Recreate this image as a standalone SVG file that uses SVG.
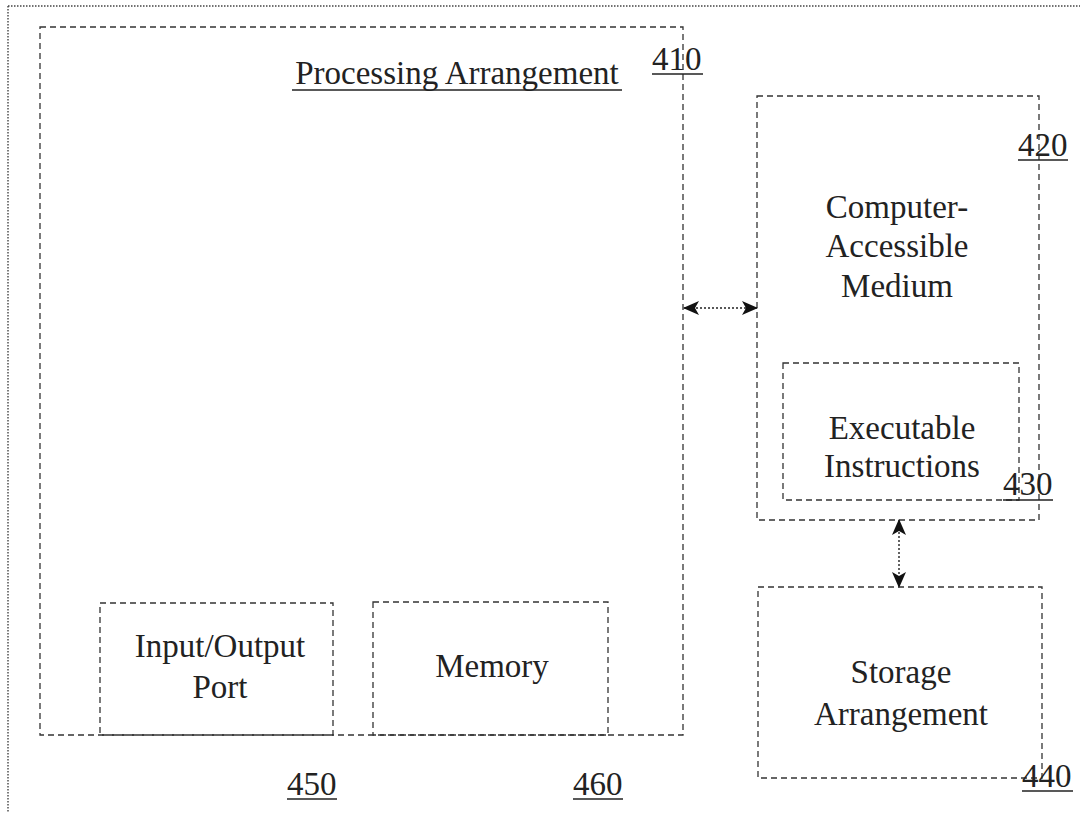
<svg xmlns="http://www.w3.org/2000/svg" width="1080" height="813" viewBox="0 0 1080 813">
  <style>
    .box { fill: none; stroke: #333; stroke-width: 1.3; stroke-dasharray: 6 4; }
    .frame { fill: none; stroke: #444; stroke-width: 1.4; stroke-dasharray: 1.5 1.5; }
    .lbl { font-family: 'Liberation Serif', 'DejaVu Serif', serif; font-size: 33px; fill: #222; text-anchor: middle; }
    .ref { font-family: 'Liberation Serif', 'DejaVu Serif', serif; font-size: 33px; fill: #222; }
    .ul { stroke: #222; stroke-width: 1.5; }
    .conn { fill: none; stroke: #222; stroke-width: 1.4; stroke-dasharray: 2 2; }
  </style>
  <defs>
    <marker id="head" viewBox="0 0 16 14" refX="15" refY="7" markerWidth="16" markerHeight="14" markerUnits="userSpaceOnUse" orient="auto-start-reverse">
      <path d="M0,0 L16,7 L0,14 L4,7 Z" fill="#111"/>
    </marker>
  </defs>

  <rect width="1080" height="813" fill="#fff"/>

  <!-- sheet frame -->
  <g id="frame">
    <line class="frame" x1="8" y1="6" x2="1080" y2="6"/>
    <line class="frame" x1="8" y1="6" x2="8" y2="813"/>
  </g>

  <!-- 410 processing arrangement -->
  <g id="processing">
    <rect class="box" x="40" y="27" width="643" height="708"/>
    <text class="lbl" x="457" y="84">Processing Arrangement</text>
    <line class="ul" x1="292" y1="90" x2="622" y2="90"/>
    <text class="ref" x="652" y="70">410</text>
    <line class="ul" x1="652" y1="74" x2="703" y2="74"/>
  </g>

  <!-- 450 input/output port -->
  <g id="io-port">
    <rect class="box" x="100" y="603" width="233" height="132"/>
    <text class="lbl" x="220" y="657">Input/Output</text>
    <text class="lbl" x="220" y="698">Port</text>
    <text class="ref" x="287" y="795">450</text>
    <line class="ul" x1="287" y1="799" x2="337" y2="799"/>
  </g>

  <!-- 460 memory -->
  <g id="memory">
    <rect class="box" x="373" y="602" width="235" height="133"/>
    <text class="lbl" x="492" y="677">Memory</text>
    <text class="ref" x="573" y="795">460</text>
    <line class="ul" x1="573" y1="799" x2="623" y2="799"/>
  </g>

  <!-- 420 computer-accessible medium -->
  <g id="medium">
    <rect class="box" x="757" y="96" width="282" height="424"/>
    <text class="lbl" x="897" y="218">Computer-</text>
    <text class="lbl" x="897" y="257">Accessible</text>
    <text class="lbl" x="897" y="297">Medium</text>
    <text class="ref" x="1018" y="156">420</text>
    <line class="ul" x1="1018" y1="160" x2="1068" y2="160"/>
  </g>

  <!-- 430 executable instructions -->
  <g id="instructions">
    <rect class="box" x="783" y="363" width="236" height="137"/>
    <text class="lbl" x="902" y="439">Executable</text>
    <text class="lbl" x="902" y="477">Instructions</text>
    <text class="ref" x="1003" y="495">430</text>
    <line class="ul" x1="1003" y1="500" x2="1053" y2="500"/>
  </g>

  <!-- 440 storage arrangement -->
  <g id="storage">
    <rect class="box" x="758" y="587" width="284" height="191"/>
    <text class="lbl" x="901" y="683">Storage</text>
    <text class="lbl" x="901" y="725">Arrangement</text>
    <text class="ref" x="1022" y="787">440</text>
    <line class="ul" x1="1022" y1="791" x2="1073" y2="791"/>
  </g>

  <!-- connectors -->
  <g id="connectors">
    <line class="conn" x1="684" y1="308" x2="757" y2="308" marker-start="url(#head)" marker-end="url(#head)"/>
    <line class="conn" x1="899" y1="520" x2="899" y2="587" marker-start="url(#head)" marker-end="url(#head)"/>
  </g>
</svg>
